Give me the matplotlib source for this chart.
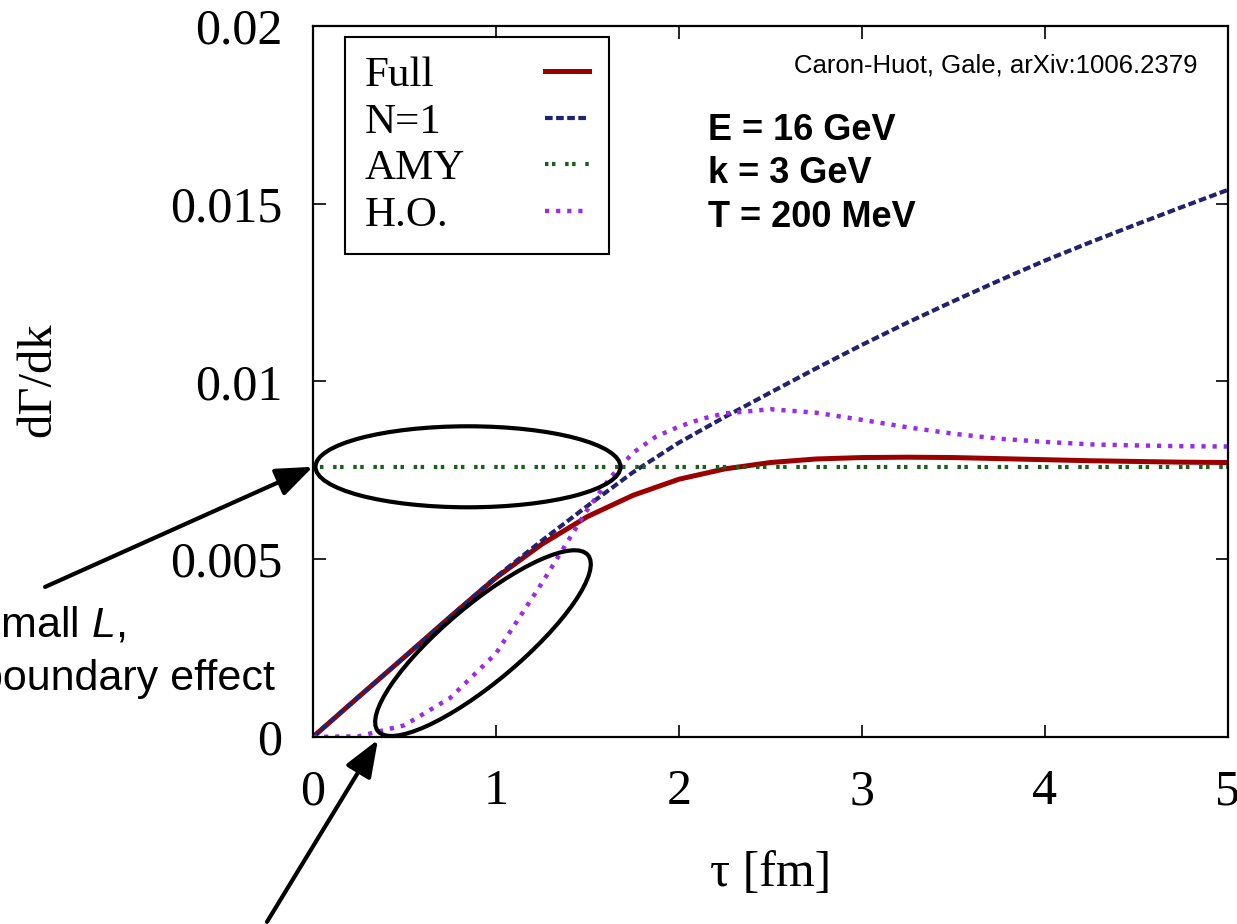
import matplotlib
matplotlib.use("Agg")
import matplotlib.pyplot as plt
import matplotlib.transforms as mtransforms
from matplotlib.patches import Ellipse

plt.rcParams['lines.scale_dashes'] = False
plt.rcParams['mathtext.fontset'] = 'custom'
plt.rcParams['mathtext.rm'] = 'Liberation Sans'
plt.rcParams['mathtext.it'] = 'Liberation Sans:italic'

# rate vs formation time, read at tau = 0, 0.25, ..., 5 fm
tau = [0, 0.25, 0.5, 0.75, 1.0, 1.25, 1.5, 1.75, 2.0, 2.25, 2.5,
       2.75, 3.0, 3.25, 3.5, 3.75, 4.0, 4.25, 4.5, 4.75, 5.0]
full = [0, 0.00113, 0.00225, 0.00338, 0.00448, 0.00542, 0.00620, 0.00680,
        0.00725, 0.00754, 0.00772, 0.00782, 0.00786, 0.00787, 0.00786,
        0.00783, 0.00780, 0.00777, 0.00775, 0.00773, 0.00772]
n1 = [0, 0.00113, 0.00225, 0.00338, 0.00450, 0.00552, 0.00650, 0.00745,
      0.00828, 0.00900, 0.00969, 0.01037, 0.01103, 0.01166, 0.01226,
      0.01284, 0.01340, 0.01392, 0.01442, 0.01491, 0.01539]
# harmonic-oscillator curve, sampled finer around its bend
ho_tau = [0, 0.25, 0.5, 0.75, 1.0, 1.25, 1.5, 1.625, 1.75, 1.875, 2.0,
          2.125, 2.25, 2.5, 2.75, 3.0, 3.25, 3.5, 3.75, 4.0, 4.25, 4.5,
          4.75, 5.0]
ho = [0, 0.00002, 0.00033, 0.00110, 0.00235, 0.00432, 0.00640, 0.00730,
      0.00800, 0.00845, 0.00873, 0.00895, 0.00910, 0.00922, 0.00912,
      0.00892, 0.00871, 0.00853, 0.00839, 0.00830, 0.00823, 0.00820,
      0.00818, 0.00817]
amy_tau = [0, 5]
amy = [0.0076, 0.0076]

xticks = [0, 1, 2, 3, 4, 5]
yticks = [0, 0.005, 0.01, 0.015, 0.02]
ylabels = ['0', '0.005', '0.01', '0.015', '0.02']

serif = 'Liberation Serif'
sans = 'Liberation Sans'

fig = plt.figure(figsize=(12.37, 9.24), dpi=100)
ax = fig.add_axes([0.2530, 0.2024, 0.7397, 0.7695])

ax.plot(tau, full, color='#9b0000', lw=3.6, label='Full')
ax.plot(tau, n1, color='#22226e', lw=3.0, ls=(0, (5.5, 2.5)), label='N=1')
ax.plot(amy_tau, amy, color='#1d5e1d', lw=3.0, ls=(0, (2.5, 2.5, 2.5, 7)), label='AMY')
ax.plot(ho_tau, ho, color='#9a2be8', lw=3.2, ls=(0, (3, 5)), label='H.O.')

ax.set_xlim(0, 5)
ax.set_ylim(0, 0.02)
ax.set_xticks(xticks)
ax.set_xticklabels([str(t) for t in xticks])
ax.set_yticks(yticks)
ax.set_yticklabels(ylabels)
ax.tick_params(direction='in', length=9, width=1.2, top=True, right=True,
               labelsize=36)
ax.tick_params(axis='x', pad=23)
ax.tick_params(axis='y', pad=22)
for lab in ax.get_xticklabels() + ax.get_yticklabels():
    lab.set_family(serif)
for s in ax.spines.values():
    s.set_linewidth(1.6)

ax.set_xlabel('τ [fm]', family=serif, fontsize=36)
ax.set_ylabel('dΓ/dk', family=serif, fontsize=35)
ax.xaxis.set_label_coords(0.5, -0.160)
ax.yaxis.set_label_coords(-0.2765, 0.502)

leg = ax.legend(loc='upper left', bbox_to_anchor=(0.035, 0.9845),
                markerfirst=False, fancybox=False, edgecolor='black',
                framealpha=1, prop=dict(family=serif, size=31),
                handlelength=1.02, handletextpad=1.0, borderpad=0.45,
                labelspacing=0.17, borderaxespad=0)
leg.get_frame().set_linewidth(1.5)
# labels flush left, samples flush right within each row
for col in leg._legend_handle_box.get_children():
    for row in col.get_children():
        row.mode = 'expand'
        row.width = 225

ax.text(0.967, 0.945, 'Caron-Huot, Gale, arXiv:1006.2379', transform=ax.transAxes,
        ha='right', va='center', family=sans, fontsize=18.5)
for yy, txt in zip([0.840, 0.779, 0.717], ['E = 16 GeV', 'k = 3 GeV', 'T = 200 MeV']):
    ax.text(0.432, yy, txt, transform=ax.transAxes, ha='left', va='baseline',
            family=sans, fontsize=26, fontweight='bold')


# rings drawn in inches around a data-space centre
def ring(x, y, w, h, angle):
    tr = fig.dpi_scale_trans + mtransforms.ScaledTranslation(x, y, ax.transData)
    ax.add_patch(Ellipse((0, 0), w, h, angle=angle, transform=tr, fill=False,
                         lw=3, ec='black', clip_on=False, zorder=5))


ring(0.847, 0.0076, 3.05, 0.81, 0)
ring(0.929, 0.00264, 2.74, 0.77, 40)

arrow = dict(arrowstyle='-|>,head_length=0.9,head_width=0.35', mutation_scale=25,
             lw=3, color='black', shrinkA=0, shrinkB=0)
ax.annotate('', xy=(0, 0.0076), xytext=(-1.464, 0.00422), arrowprops=arrow,
            annotation_clip=False)
ax.annotate('', xy=(0.355, -0.00008), xytext=(-0.251, -0.0052), arrowprops=arrow,
            annotation_clip=False)

fig.text(-21 / 1237, 1 - 637 / 924, 'small $L$,', family=sans, fontsize=31,
         ha='left', va='baseline')
fig.text(-21 / 1237, 1 - 690 / 924, 'boundary effect', family=sans, fontsize=31,
         ha='left', va='baseline')

fig.savefig('out.png', dpi=100)
